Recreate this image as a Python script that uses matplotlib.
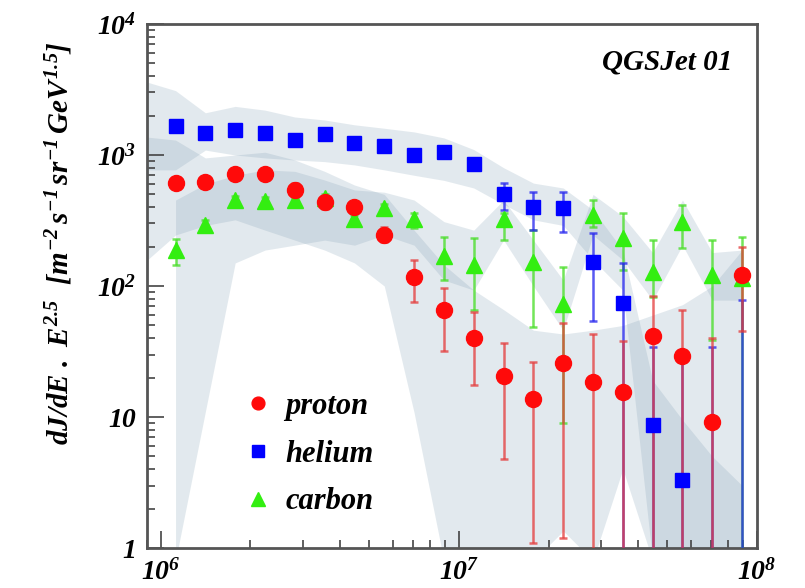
import numpy as np
import matplotlib
matplotlib.use("Agg")
import matplotlib.pyplot as plt
from matplotlib.ticker import FixedLocator, FixedFormatter, NullFormatter

# bin centres, log10(E/GeV)
E_LOG = [6.05, 6.15, 6.25, 6.35, 6.45, 6.55, 6.65, 6.75, 6.85, 6.95,
         7.05, 7.15, 7.25, 7.35, 7.45, 7.55, 7.65, 7.75, 7.85, 7.95]

# proton
p_val = [611, 622, 716, 716, 541, 440, 400, 245, 117, 66,
         40, 20.6, 13.7, 26, 18.6, 15.4, 41.5, 29.4, 9.2, 121]
p_lo = [560, 560, 650, 650, 480, 390, 360, 215, 75, 32,
        17.5, 4.8, 1.1, 1.2, 0.5, 0.5, 0.5, 0.5, 0.5, 45]
p_hi = [680, 690, 790, 790, 610, 490, 440, 280, 158, 97,
        63, 37, 26.5, 52, 43, 38, 84, 66, 40, 200]

# helium (last two bins below 1)
he_val = [1660, 1480, 1550, 1470, 1300, 1450, 1230, 1180, 1000, 1060,
          850, 500, 400, 394, 152, 74, 8.7, 3.3, 0.5, 0.5]
he_lo = [1550, 1380, 1450, 1370, 1210, 1350, 1150, 1100, 930, 990,
         790, 380, 267, 258, 54, 0.5, 0.5, 0.5, 0.5, 0.5]
he_hi = [1780, 1590, 1660, 1580, 1400, 1560, 1320, 1270, 1080, 1140,
         910, 610, 520, 520, 255, 150, 34, 32, 34, 78]

# carbon
c_val = [188, 292, 453, 448, 450, 470, 324, 394, 324, 169,
         145, 324, 152, 73, 348, 234, 129, 308, 121, 115]
c_lo = [145, 270, 420, 420, 420, 440, 300, 370, 278, 111,
        66, 224, 49, 9, 280, 132, 82, 195, 39, 0.5]
c_hi = [230, 320, 490, 480, 480, 500, 350, 420, 360, 235,
        232, 360, 267, 140, 453, 360, 224, 415, 224, 235]

# systematic bands
BAND_LOG_EDGE = [5.955] + E_LOG
p_band_lo = [158, 245, 290, 320, 267, 224, 188, 150, 100, 10.8, 0.8,
             0.8, 0.8, 0.8, 1.35, 0.8, 4, 0.8, 0.8, 0.8, 0.8]
p_band_hi = [1370, 1300, 950, 1000, 1050, 916, 750, 590, 500, 267, 145,
             93, 66, 46, 43, 46, 50, 60, 72, 100, 188]
he_band_lo = [770, 770, 1090, 1000, 950, 916, 890, 840, 770, 700, 640,
              560, 420, 320, 290, 158, 93, 0.8, 0.8, 0.8, 0.8]
he_band_hi = [3600, 3100, 2100, 2350, 2200, 1950, 1850, 1700, 1600, 1500, 1350,
              1100, 800, 610, 560, 380, 188, 19, 9.5, 5, 3]
c_band_lo = [0.8, 11, 150, 188, 205, 224, 205, 245, 205, 111,
             93, 224, 100, 46, 245, 158, 78, 205, 78, 78]
c_band_hi = [453, 600, 700, 770, 750, 644, 541, 520, 453, 310,
             267, 453, 224, 111, 500, 340, 180, 453, 180, 188]

plt.rcParams['mathtext.fontset'] = 'custom'
plt.rcParams['mathtext.rm'] = 'Liberation Serif:bold:italic'
plt.rcParams['mathtext.it'] = 'Liberation Serif:bold:italic'
plt.rcParams['mathtext.bf'] = 'Liberation Serif:bold:italic'
serif = dict(family='Liberation Serif', style='italic', weight='bold')

fig = plt.figure(figsize=(8.05, 5.88), dpi=100)
ax = fig.add_axes([0.1826, 0.068, 0.7578, 0.8912])
ax.set_xscale('log')
ax.set_yscale('log')
ax.set_xlim(9e5, 1e8)
ax.set_ylim(1, 1e4)

E = 10 ** np.array(E_LOG)
Eb = 10 ** np.array(BAND_LOG_EDGE)
band_col = '#7f9db3'
ax.fill_between(Eb, p_band_lo, p_band_hi, color=band_col, alpha=0.22, lw=0, zorder=1)
ax.fill_between(Eb, he_band_lo, he_band_hi, color=band_col, alpha=0.22, lw=0, zorder=1)
ax.fill_between(E, c_band_lo, c_band_hi, color=band_col, alpha=0.22, lw=0, zorder=1)

series = [
    (c_val, c_lo, c_hi, '^', '#33ee11', '#44dd22', 12, 'carbon'),
    (he_val, he_lo, he_hi, 's', '#0000ff', '#2222ee', 10.5, 'helium'),
    (p_val, p_lo, p_hi, 'o', '#ff0a0a', '#e43a3a', 11.5, 'proton'),
]
handles = {}
for val, lo, hi, mk, col, ecol, ms, name in series:
    val = np.array(val)
    yerr = [val - np.array(lo), np.array(hi) - val]
    ax.errorbar(E, val, yerr=yerr, fmt='none', ecolor=ecol, elinewidth=1.8,
                capsize=3, capthick=1.8, alpha=0.75, zorder=3)
    h, = ax.plot(E, val, mk, color=col, ms=ms, mec=col, ls='none', zorder=4,
                 label=name)
    handles[name] = h

leg = ax.legend([handles['proton'], handles['helium'], handles['carbon']],
                ['proton', 'helium', 'carbon'], loc='lower left',
                bbox_to_anchor=(0.137, 0.037), frameon=False, numpoints=1,
                prop=dict(family='Liberation Serif', style='italic',
                          weight='bold', size=22),
                handlelength=1.0, handletextpad=0.4, labelspacing=0.61,
                borderaxespad=0, markerscale=0.8)

ax.text(0.959, 0.927, 'QGSJet 01', transform=ax.transAxes, ha='right',
        va='center', fontsize=21, **serif)

# ticks, ROOT style: inside, no ticks on the opposite sides
ax.yaxis.set_major_locator(FixedLocator([1, 10, 100, 1000, 10000]))
ax.yaxis.set_major_formatter(FixedFormatter(['1', '10', r'$10^{2}$', r'$10^{3}$', r'$10^{4}$']))
ax.xaxis.set_major_locator(FixedLocator([1e6, 1e7, 1e8]))
ax.xaxis.set_major_formatter(FixedFormatter([r'$10^{6}$', r'$10^{7}$', r'$10^{8}$']))
ax.yaxis.set_minor_formatter(NullFormatter())
ax.xaxis.set_minor_formatter(NullFormatter())
ax.tick_params(which='both', direction='in', top=False, right=False,
               color='#444444', width=1.2)
ax.tick_params(which='major', length=12, labelsize=20, pad=8)
ax.tick_params(which='minor', length=6)
for lab in ax.get_xticklabels() + ax.get_yticklabels():
    lab.set_fontfamily('Liberation Serif')
    lab.set_fontstyle('italic')
    lab.set_fontweight('bold')
for s in ax.spines.values():
    s.set_color('#555555')
    s.set_linewidth(2)

ax.set_ylabel(r'$dJ/dE\ .\ E^{2.5}\ \ [m^{-2}\,s^{-1}\,sr^{-1}\,GeV^{1.5}]$',
              fontsize=21)
ax.yaxis.set_label_coords(-0.118, 0.582)

fig.savefig('out.png', dpi=100)
